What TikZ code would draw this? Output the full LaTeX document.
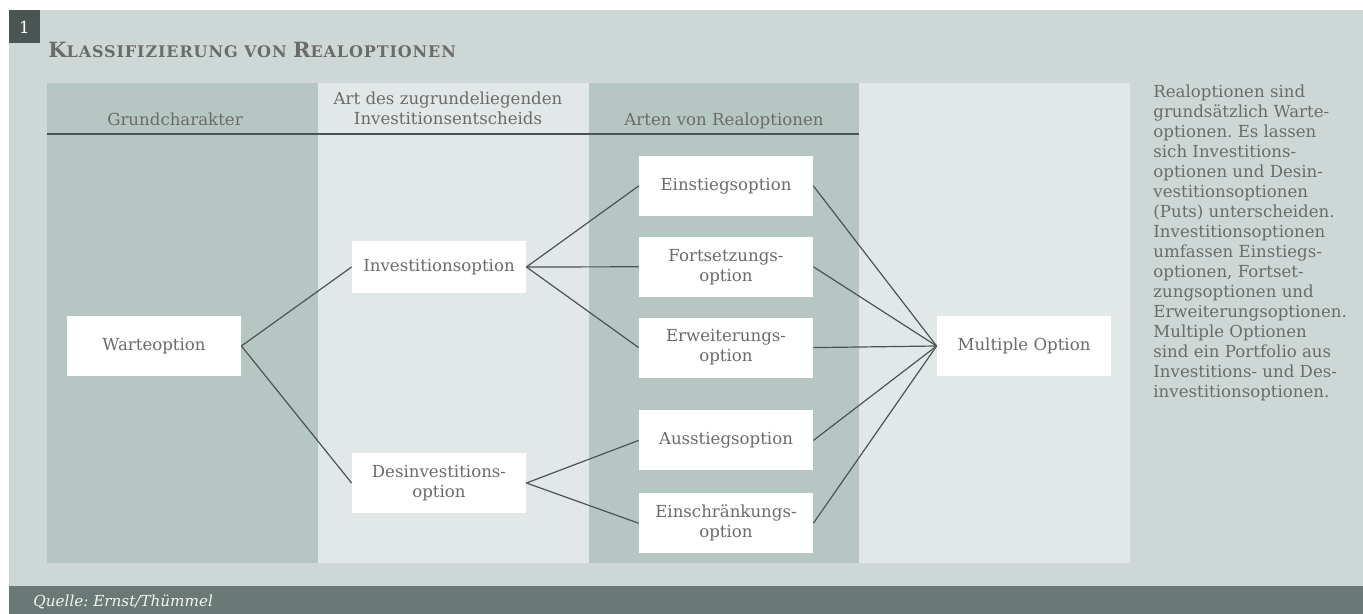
\documentclass[tikz,border=0pt]{standalone}
\usepackage{fontspec}
\setmainfont{DejaVu Serif}
\usetikzlibrary{positioning}
\definecolor{pagebg}{HTML}{CDD8D6}
\definecolor{coldark}{HTML}{B6C7C3}
\definecolor{collight}{HTML}{E1E8E7}
\definecolor{footbg}{HTML}{6A7975}
\definecolor{numbg}{HTML}{4A5553}
\definecolor{linegrey}{HTML}{4A5553}
\definecolor{txtgrey}{HTML}{6B6B6B}
\newcommand\smallcp[1]{{\fontsize{8}{9}\selectfont\addfontfeature{LetterSpace=5.5}#1}}
\newcommand\bigcp[1]{{\fontsize{10.5}{12}\selectfont\addfontfeature{LetterSpace=5.5}#1}}
\frenchspacing
\begin{document}
\begin{tikzpicture}[x=0.5pt,y=-0.5pt,font=\fontsize{8.3}{10}\selectfont,text=txtgrey,
opt/.style={fill=white,minimum width=87pt,minimum height=30pt,align=center,inner sep=1pt},
con/.style={draw=linegrey,line width=0.6pt},
colhead/.style={align=center,anchor=base}]
\useasboundingbox (0,0) rectangle (1363,614);
% background, footer and number tab
\fill[pagebg] (9,10) rectangle (1363,586);
\fill[footbg] (9,586) rectangle (1363,614);
\fill[numbg] (9,10) rectangle (40,43);
\node[text=white] (num) at (24.5,27) {1};
\node[anchor=base west,inner sep=0pt,font=\bfseries] (title) at (48,58)
  {\bigcp{K}\smallcp{LASSIFIZIERUNG VON }\bigcp{R}\smallcp{EALOPTIONEN}};
\node[anchor=base west,inner sep=0pt,text=white!92!footbg,font=\fontsize{7.6}{10}\selectfont\itshape] (src) at (33,606) {Quelle: Ernst/Thümmel};
% columns
\fill[coldark] (47,83) rectangle (318,563);
\fill[collight] (318,83) rectangle (589,563);
\fill[coldark] (589,83) rectangle (859,563);
\fill[collight] (859,83) rectangle (1130,563);
\draw[linegrey,line width=0.7pt] (47,134) -- (859,134);
\node[colhead] (h1) at (175,126) {Grundcharakter};
\node[colhead] (h2) at (448,125) {Art des zugrundeliegenden\\Investitionsentscheids};
\node[colhead] (h3) at (724,126) {Arten von Realoptionen};
% option boxes
\node[opt] (warte) at (154,346) {Warteoption};
\node[opt,minimum height=26pt] (inv) at (439,267) {Investitionsoption};
\node[opt] (desinv) at (439,483) {Desinvestitions-\\option};
\node[opt] (ein) at (726,186) {Einstiegsoption};
\node[opt,below=10pt of ein] (fort) {Fortsetzungs-\\option};
\node[opt,below=10pt of fort] (erw) {Erweiterungs-\\option};
\node[opt,below=16pt of erw] (aus) {Ausstiegsoption};
\node[opt,below=11pt of aus] (einschr) {Einschränkungs-\\option};
\node[opt] (mult) at (1024,346) {Multiple Option};
% connectors
\draw[con] (warte.east) -- (inv.west);
\draw[con] (warte.east) -- (desinv.west);
\foreach \t in {ein,fort,erw} \draw[con] (inv.east) -- (\t.west);
\foreach \t in {aus,einschr} \draw[con] (desinv.east) -- (\t.west);
\foreach \t in {ein,fort,erw,aus,einschr} \draw[con] (\t.east) -- (mult.west);
% side text
\node[anchor=north west,align=left,inner sep=0pt] (note) at (1153,84)
  {Realoptionen sind\\grundsätzlich Warte-\\optionen. Es lassen\\sich Investitions-\\optionen und Desin-\\vestitionsoptionen\\(Puts) unterscheiden.\\Investitionsoptionen\\umfassen Einstiegs-\\optionen, Fortset-\\zungsoptionen und\\Erweiterungsoptionen.\\Multiple Optionen\\sind ein Portfolio aus\\Investitions- und Des-\\investitionsoptionen.};
\end{tikzpicture}
\end{document}
